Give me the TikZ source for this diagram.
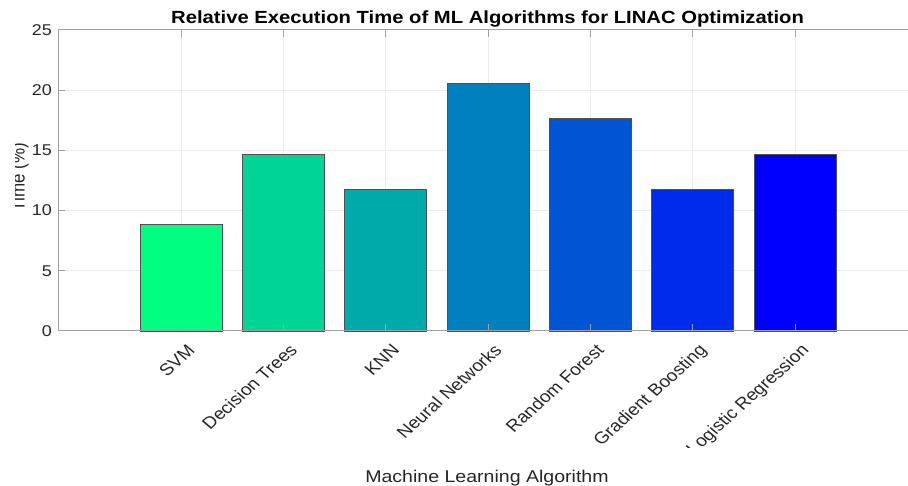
\documentclass[tikz,border=0pt]{standalone}
\usepackage{fontspec}
\setmainfont{Liberation Sans}
\definecolor{SVMGreen}{HTML}{00FF80}
\definecolor{TreeGreen}{HTML}{00D595}
\definecolor{KNNTeal}{HTML}{00AAAA}
\definecolor{NeuralBlue}{HTML}{0080BF}
\definecolor{ForestBlue}{HTML}{0055D5}
\definecolor{BoostBlue}{HTML}{002BEA}
\definecolor{LogitBlue}{HTML}{0000FF}
\definecolor{BarEdge}{HTML}{505050}
\definecolor{AxisGray}{HTML}{A0A0A0}
\definecolor{GridGray}{HTML}{EBEBEB}
\definecolor{TickText}{HTML}{262626}
\tikzset{
    % bars and lines
    bar/.style={
        draw=BarEdge,
        line width=0.7pt
    },
    grid line/.style={
        draw=GridGray,
        line width=0.7pt
    },
    axis line/.style={
        draw=AxisGray,
        line width=1pt
    },
    % texts
    tick label/.style={
        font=\fontsize{15.6}{18}\selectfont,
        text=TickText,
        inner sep=0pt
    },
    algo label/.style={
        tick label,
        font=\fontsize{16.6}{19}\selectfont,
        rotate=46,
        anchor=base east
    },
    axis title/.style={
        font=\fontsize{17}{20}\selectfont,
        text=TickText,
        inner sep=0pt,
        anchor=base
    }
}

\begin{document}
\begin{tikzpicture}[x=0.8696pt, y=-1pt, xscale=1.15, transform shape]
        \useasboundingbox (0,0) rectangle (908,486);

        % Title
        \node[font=\fontsize{17.6}{20}\selectfont\bfseries, inner sep=0pt, anchor=base] (title) at (487.5,23.3) {Relative Execution Time of ML Algorithms for LINAC Optimization};

        % Grid
        \foreach \gx in {181,283.3,385.7,488,590.3,692.7,795}
            \draw[grid line] (\gx,30) -- (\gx,331);
        \foreach \gy in {90.2,150.4,210.6,270.8}
            \draw[grid line] (58,\gy) -- (908,\gy);

        % Bars
        \draw[bar, fill=SVMGreen] (140,331) rectangle (222,224.8);
        \draw[bar, fill=TreeGreen] (242.3,331) rectangle (324.3,153.9);
        \draw[bar, fill=KNNTeal] (344.7,331) rectangle (426.7,189.4);
        \draw[bar, fill=NeuralBlue] (447,331) rectangle (529,83.1);
        \draw[bar, fill=ForestBlue] (549.3,331) rectangle (631.3,118.5);
        \draw[bar, fill=BoostBlue] (651.7,331) rectangle (733.7,189.4);
        \draw[bar, fill=LogitBlue] (754,331) rectangle (836,153.9);

        % Axes box and ticks
        \draw[axis line] (908,30) -- (58,30) -- (58,331) -- (908,331);
        \foreach \gx in {181,283.3,385.7,488,590.3,692.7,795} {
            \draw[axis line] (\gx,331) -- (\gx,324);
            \draw[axis line] (\gx,30) -- (\gx,37);
        }
        \foreach \gy in {30,90.2,150.4,210.6,270.8,331}
            \draw[axis line] (58,\gy) -- (65,\gy);

        % Y tick labels
        \node[tick label, anchor=east] (y0) at (52,331) {0};
        \node[tick label, anchor=east] (y5) at (52,270.8) {5};
        \node[tick label, anchor=east] (y10) at (52,210.6) {10};
        \node[tick label, anchor=east] (y15) at (52,150.4) {15};
        \node[tick label, anchor=east] (y20) at (52,90.2) {20};
        \node[tick label, anchor=east] (y25) at (52,30) {25};

        % Algorithm labels
        \begin{scope}
            \clip (0,0) rectangle (908,448);
            \node[algo label] (svm) at (196,351) {SVM};
            \node[algo label] (trees) at (298.3,351) {Decision Trees};
            \node[algo label] (knn) at (400.7,351) {KNN};
            \node[algo label] (neural) at (503,351) {Neural Networks};
            \node[algo label] (forest) at (605.3,351) {Random Forest};
            \node[algo label] (boost) at (707.7,351) {Gradient Boosting};
            \node[algo label] (logit) at (810,351) {Logistic Regression};
        \end{scope}

        % Axis titles
        \node[axis title] (xtitle) at (487,482.5) {Machine Learning Algorithm};
        \begin{scope}
            \clip (15,0) rectangle (908,486);
            \node[axis title, rotate=90] (ytitle) at (24.5,177) {Time (\%)};
        \end{scope}
    \end{tikzpicture}
\end{document}
